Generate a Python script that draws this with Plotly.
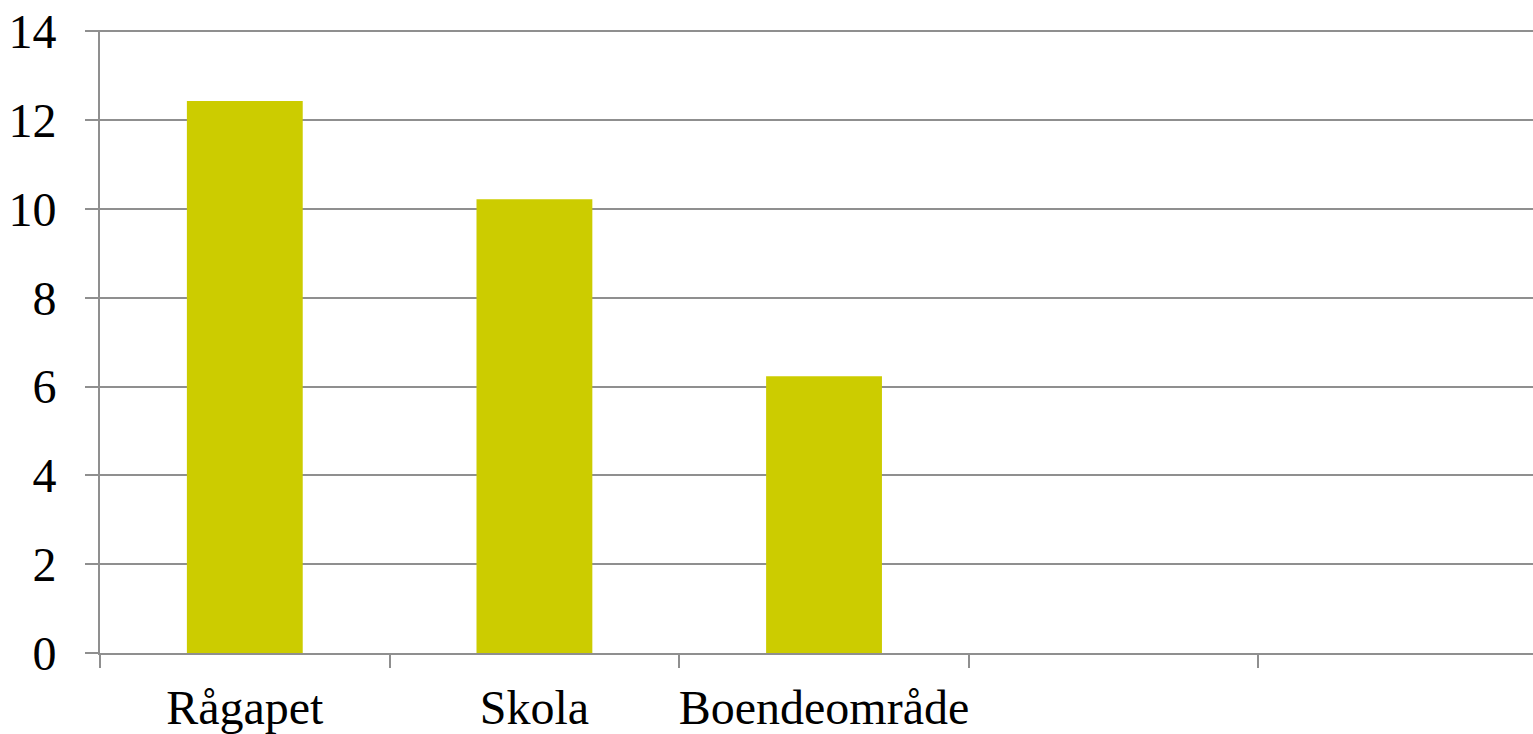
import plotly.graph_objects as go

categories = ["Rågapet", "Skola", "Boendeområde", " ", "  "]
values = [12.43, 10.22, 6.23, None, None]
y_ticks = [0, 2, 4, 6, 8, 10, 12, 14]

GRAY = "#8f8f8f"
FONT = dict(family="Liberation Serif, Times New Roman, serif", size=48, color="black")

fig = go.Figure()
fig.add_trace(go.Bar(
    x=categories, y=values, width=0.4,
    marker=dict(color="#CCCC00", line=dict(width=0)),
    showlegend=False,
))

fig.update_layout(
    width=1533, height=734,
    margin=dict(l=100, r=0, t=30, b=81, pad=0, autoexpand=False),
    paper_bgcolor="white", plot_bgcolor="white",
    font=FONT,
    bargap=0.6,
)
fig.update_xaxes(
    type="category",
    range=[-0.5, 4.448],
    tickson="boundaries",
    tickangle=0,
    automargin=False,
    ticks="outside", ticklen=13, tickwidth=2, tickcolor=GRAY,
    showline=True, linecolor=GRAY, linewidth=2,
    showgrid=False, zeroline=False,
    tickfont=FONT,
    ticklabelstandoff=11,
    ticklabeloverflow="allow",
)
fig.update_yaxes(
    range=[0, 14.03],
    tickvals=y_ticks,
    ticktext=[str(v) for v in y_ticks],
    automargin=False,
    ticks="outside", ticklen=13, tickwidth=2, tickcolor=GRAY,
    showline=True, linecolor=GRAY, linewidth=2,
    showgrid=True, gridcolor=GRAY, gridwidth=2,
    zeroline=False,
    tickfont=FONT,
    ticklabelstandoff=19,
    ticklabeloverflow="allow",
)

fig.write_html(
    "out.html",
    config={"displayModeBar": False},
    post_script="document.body.style.margin='0';document.documentElement.style.overflow='hidden';",
)
